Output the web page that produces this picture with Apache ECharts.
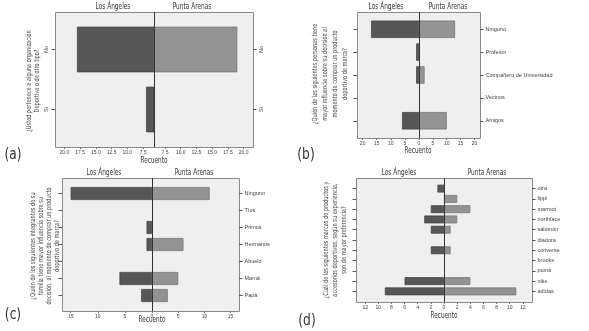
<!DOCTYPE html>
<html>
<head>
<meta charset="utf-8">
<script src="https://cdn.jsdelivr.net/npm/echarts@6/dist/echarts.min.js"></script>
<style>
  html, body { margin: 0; padding: 0; background: #fff; }
  #chart { width: 589px; height: 331px; }
</style>
</head>
<body>
<div id="chart"></div>
<script>
// (a) pertenencia a organizacion deportiva
var catsA = ['No', 'Sí'];
var losAngelesA = [18, 7];
var puntaArenasA = [19, 0];
var ticksA = [7.5, 10, 12.5, 15, 17.5, 20];

// (b) personas que influyen
var catsB = ['Ninguno', 'Profesor', 'Compañero de Universidad', 'Vecinos', 'Amigos'];
var losAngelesB = [17, 1, 1, 0, 6];
var puntaArenasB = [13, 0, 2, 0, 10];
var ticksB = [0, 5, 10, 15, 20];

// (c) familiares que influyen
var catsC = ['Ninguno', 'Tíos', 'Primos', 'Hermanos', 'Abuelo', 'Mamá', 'Papá'];
var losAngelesC = [15, 0, 1, 1, 0, 6, 2];
var puntaArenasC = [11, 0, 0, 6, 0, 5, 3];
var ticksC = [0, 5, 10, 15];

// (d) marcas preferidas
var catsD = ['otra', 'lippi', 'marmot', 'northface', 'salomón', 'diadora', 'converse', 'brooks', 'puma', 'nike', 'adidas'];
var losAngelesD = [1, 0, 2, 3, 2, 0, 2, 0, 0, 6, 9];
var puntaArenasD = [0, 2, 4, 2, 1, 0, 1, 0, 0, 4, 11];
var ticksD = [0, 2, 4, 6, 8, 10, 12];

var narrow = "'Liberation Sans Narrow', 'DejaVu Sans Condensed', 'Noto Sans', sans-serif";
var plain = "'Liberation Sans', Arial, sans-serif";

var panels = [
  { tag: '(a)', cats: catsA, la: losAngelesA, pa: puntaArenasA, ticks: ticksA, min: 5.75, max: 21.5, dec: 1,
    box: [55, 12, 253, 147], mid: 154, pad: 7.5, sideLabels: true,
    q: '¿Usted pertenece a alguna organización\nDeportiva o de otro tipo?', qx: 33, qy: 81, qLine: 8.5,
    titleY: 7, laX: 113, paX: 192, recX: 154, recY: 161, tagX: 13, tagY: 155 },
  { tag: '(b)', cats: catsB, la: losAngelesB, pa: puntaArenasB, ticks: ticksB, min: 0, max: 22, dec: 0,
    box: [357, 12, 480, 138], mid: 419, pad: 5.8, sideLabels: false,
    q: '¿Quién de las siguientes personas tiene\nmayor influencia sobre su decisión al\nmomento de comprar un producto\ndeportivo de marca?', qx: 330, qy: 74, qLine: 10,
    titleY: 7, laX: 386, paX: 448, recX: 418, recY: 151, tagX: 306, tagY: 155 },
  { tag: '(c)', cats: catsC, la: losAngelesC, pa: puntaArenasC, ticks: ticksC, min: 0, max: 16.6, dec: 0,
    box: [62, 178, 239, 311], mid: 152, pad: 7, sideLabels: false,
    q: '¿Quién de los siguientes integrantes de su\nfamilia tiene mayor influencia sobre su\ndecisión, al momento de comprar un producto\ndeportivo de marca?', qx: 45, qy: 246, qLine: 8,
    titleY: 173, laX: 104, paX: 194, recX: 152, recY: 320, tagX: 13, tagY: 315 },
  { tag: '(d)', cats: catsD, la: losAngelesD, pa: puntaArenasD, ticks: ticksD, min: 0, max: 13.4, dec: 0,
    box: [356, 178, 532, 302], mid: 444, pad: 5.5, sideLabels: false,
    q: '¿Cuál de las siguientes marcas de productos y\naccesorios deportivos, según su experiencia,\nson de mayor preferencia?', qx: 335, qy: 240, qLine: 9,
    titleY: 173, laX: 399, paX: 487, recX: 444, recY: 316, tagX: 307, tagY: 321 }
];

var grid = [], xAxis = [], yAxis = [], series = [], graphic = [];

panels.forEach(function (p, i) {
  var top = p.box[1] + p.pad;
  var h = p.box[3] - p.box[1] - 2 * p.pad;
  grid.push({ left: p.box[0], top: top, width: p.mid - p.box[0], height: h });
  grid.push({ left: p.mid, top: top, width: p.box[2] - p.mid, height: h });

  var fmt = function (v) { return v.toFixed(p.dec); };
  var rightTicks = p.ticks.filter(function (v) { return v !== 0; });

  [0, 1].forEach(function (side) {
    var gi = i * 2 + side;
    var tv = side === 0 ? p.ticks : rightTicks;
    var vals = side === 0 ? p.la : p.pa;
    xAxis.push({
      gridIndex: gi, type: 'value', inverse: side === 0, min: p.min, max: p.max, offset: p.pad,
      axisLine: { show: false, onZero: false }, splitLine: { show: false },
      axisTick: { show: true, length: 2, customValues: tv, lineStyle: { color: '#777' } },
      axisLabel: { customValues: tv, fontSize: 5, fontFamily: plain, color: '#444', margin: 3, formatter: fmt }
    });
    yAxis.push({
      gridIndex: gi, type: 'category', data: p.cats, inverse: true,
      position: side === 0 ? 'left' : 'right',
      axisLine: { show: false, onZero: false },
      axisTick: { show: true, alignWithLabel: true, length: 3.5, lineStyle: { color: '#555' } },
      axisLabel: {
        show: side === 1 || p.sideLabels, rotate: p.sideLabels ? 90 : 0,
        fontSize: 5.5, fontFamily: plain, color: '#444', margin: 5.5
      }
    });
    series.push({
      type: 'bar', xAxisIndex: gi, yAxisIndex: gi,
      // empty counts get no bar at all
      data: vals.map(function (v) { return v === 0 ? '-' : v; }),
      barCategoryGap: '24%', silent: true,
      itemStyle: side === 0
        ? { color: '#575757', borderColor: '#3c3c3c', borderWidth: 0.7 }
        : { color: '#939393', borderColor: '#6e6e6e', borderWidth: 0.7 }
    });
  });

  graphic.push({
    type: 'rect', z: -10, silent: true,
    shape: { x: p.box[0] + 0.5, y: p.box[1] + 0.5, width: p.box[2] - p.box[0], height: p.box[3] - p.box[1] },
    style: { fill: '#efefef', stroke: '#8a8a8a', lineWidth: 1 }
  });
  graphic.push({
    type: 'line', z: 10, silent: true,
    shape: { x1: p.mid + 0.5, y1: p.box[1], x2: p.mid + 0.5, y2: p.box[3] },
    style: { stroke: '#333', lineWidth: 1 }
  });
  var txt = function (s, x, y, size, extra) {
    var el = {
      type: 'text', x: x, y: y, silent: true, z: 20,
      style: { text: s, fontSize: size, fontFamily: narrow, fill: '#333', align: 'center', verticalAlign: 'middle' }
    };
    if (extra) { for (var k in extra) { el[k] = extra[k]; } }
    return el;
  };
  graphic.push(txt('Los Ángeles', p.laX, p.titleY, 9, { scaleX: 0.72 }));
  graphic.push(txt('Punta Arenas', p.paX, p.titleY, 9, { scaleX: 0.72 }));
  graphic.push(txt('Recuento', p.recX, p.recY, 8.5, { scaleX: 0.75 }));
  graphic.push(txt(p.tag, p.tagX, p.tagY, 16, { scaleX: 0.85 }));
  var q = txt(p.q, p.qx, p.qy, 7, { rotation: Math.PI / 2, scaleX: 0.8 });
  q.style.lineHeight = p.qLine;
  q.style.fill = '#444';
  graphic.push(q);
});

var chart = echarts.init(document.getElementById('chart'));
chart.setOption({
  animation: false,
  backgroundColor: '#fff',
  grid: grid,
  xAxis: xAxis,
  yAxis: yAxis,
  series: series,
  graphic: graphic
});
</script>
</body>
</html>
